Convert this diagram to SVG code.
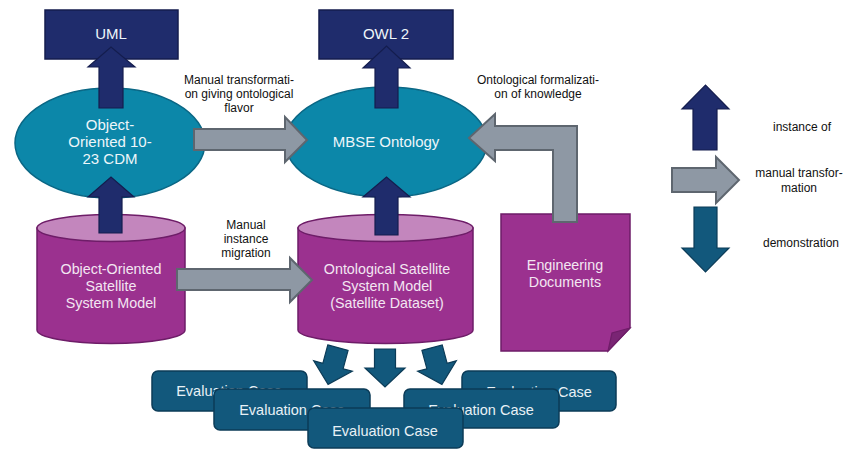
<svg xmlns="http://www.w3.org/2000/svg" width="845" height="451" viewBox="0 0 845 451">
<style>
  text { font-family: "Liberation Sans", Arial, sans-serif; text-anchor: middle; }
  .big { font-size: 15px; fill: #eef6fa; }
  .mid { font-size: 14.3px; fill: #f3e6f2; }
  .eval { font-size: 14.5px; fill: #e8f1f6; }
  .lbl { font-size: 12px; fill: #111; }
  .leg { font-size: 12px; fill: #111; }
  .navy { fill: #1f2c6c; stroke: #141d4e; stroke-width: 1.5; }
  .teal { fill: #0c87a9; stroke: #0a6785; stroke-width: 1.5; }
  .cyl { fill: #9b318f; stroke: #6e1d68; stroke-width: 1.5; }
  .cap { fill: #c386bd; stroke: #6e1d68; stroke-width: 1.5; }
  .box { fill: #12587c; stroke: #0b3b57; stroke-width: 1.5; }
  .gray { fill: #8e98a4; stroke: #5e666f; stroke-width: 2; }
  .up { fill: #1f2c6c; stroke: #141d4e; stroke-width: 1.2; }
  .dn { fill: #12587c; stroke: #0b3b57; stroke-width: 1.2; }
</style>
<defs>
  <path id="darr" d="M-10.5,-19 L10.5,-19 L10.5,0 L20,0 L0,19 L-20,0 L-10.5,0 Z"/>
</defs>
<rect width="845" height="451" fill="#ffffff"/>

<g id="uml">
  <rect class="navy" x="45" y="10" width="133" height="49"/>
  <text class="big" x="111" y="39">UML</text>
</g>
<g id="owl2">
  <rect class="navy" x="319" y="10" width="134" height="49"/>
  <text class="big" x="386" y="39">OWL 2</text>
</g>
<g id="cdm">
  <ellipse class="teal" cx="110" cy="143" rx="95" ry="55"/>
  <text class="big" x="110" y="130">Object-</text>
  <text class="big" x="110" y="147">Oriented 10-</text>
  <text class="big" x="110" y="164">23 CDM</text>
</g>
<g id="mbse">
  <ellipse class="teal" cx="386" cy="142" rx="101" ry="55"/>
  <text class="big" x="386" y="147">MBSE Ontology</text>
</g>
<g id="oo-model">
  <path class="cyl" d="M37,228 L37,330 A74,13.5 0 0 0 185,330 L185,228 Z"/>
  <ellipse class="cap" cx="111" cy="228" rx="74" ry="13.5"/>
  <text class="mid" x="111" y="274">Object-Oriented</text>
  <text class="mid" x="111" y="291">Satellite</text>
  <text class="mid" x="111" y="308">System Model</text>
</g>
<g id="onto-model">
  <path class="cyl" d="M298,228 L298,330 A87.5,13.5 0 0 0 473,330 L473,228 Z"/>
  <ellipse class="cap" cx="385.5" cy="228" rx="87.5" ry="13.5"/>
  <text class="mid" x="387" y="274">Ontological Satellite</text>
  <text class="mid" x="387" y="291">System Model</text>
  <text class="mid" x="387" y="308">(Satellite Dataset)</text>
</g>
<g id="eng-docs">
  <path class="cyl" d="M501,214 L630,214 L630,328 L608,351 L501,351 Z"/>
  <path d="M630,328 L612,333 L608,351 Z" fill="#7a2574" stroke="#6e1d68" stroke-width="1.2"/>
  <text class="mid" x="565" y="270">Engineering</text>
  <text class="mid" x="565" y="287">Documents</text>
</g>
<g id="eval1">
  <rect class="box" x="152" y="371" width="155" height="40" rx="6"/>
  <text class="eval" x="229" y="396">Evaluation Case</text>
</g>
<g id="eval4">
  <rect class="box" x="462" y="371" width="154" height="40" rx="6"/>
  <text class="eval" x="539" y="397">Evaluation Case</text>
</g>
<g id="eval2">
  <rect class="box" x="214" y="389" width="156" height="41" rx="6"/>
  <text class="eval" x="292" y="415">Evaluation Case</text>
</g>
<g id="eval5">
  <rect class="box" x="404" y="389" width="155" height="39" rx="6"/>
  <text class="eval" x="481" y="415">Evaluation Case</text>
</g>
<g id="eval3">
  <rect class="box" x="308" y="408" width="155" height="40" rx="6"/>
  <text class="eval" x="385" y="436">Evaluation Case</text>
</g>

<g id="connectors">
  <path class="up" d="M99,108 L99,67 L88,67 L111,47 L135,67 L123,67 L123,108 Z"/>
  <path class="up" d="M375,108 L375,68 L363,68 L386.5,46 L410,68 L398,68 L398,108 Z"/>
  <path class="up" d="M99,233 L99,197 L88,197 L111,177 L134,197 L122,197 L122,233 Z"/>
  <path class="up" d="M375,235 L375,197 L363,197 L386.5,177 L410,197 L398,197 L398,235 Z"/>
  <path class="gray" d="M194,129 L285,129 L285,117 L307,140 L285,162 L285,150 L194,150 Z"/>
  <path class="gray" d="M177,269 L290,269 L290,258 L312,280 L290,302 L290,290 L177,290 Z"/>
  <path class="gray" d="M469,138 L495,114 L495,126 L577,126 L577,222 L553,222 L553,150 L495,150 L495,161 Z"/>
  <use href="#darr" class="dn" transform="translate(333,366) rotate(15)"/>
  <use href="#darr" class="dn" transform="translate(385,368)"/>
  <use href="#darr" class="dn" transform="translate(437,366) rotate(-15)"/>
  <text class="lbl" x="239" y="84">Manual transformati-</text>
  <text class="lbl" x="239" y="98">on giving ontological</text>
  <text class="lbl" x="239" y="112">flavor</text>
  <text class="lbl" x="538" y="84">Ontological formalizati-</text>
  <text class="lbl" x="538" y="98">on of knowledge</text>
  <text class="lbl" x="246" y="229">Manual</text>
  <text class="lbl" x="246" y="243">instance</text>
  <text class="lbl" x="246" y="257">migration</text>
</g>

<g id="legend">
  <path class="up" d="M693,150 L693,109 L682,109 L705.5,85 L729,109 L717,109 L717,150 Z"/>
  <path class="gray" d="M672,168 L716,168 L716,157 L739,180 L716,203 L716,192 L672,192 Z"/>
  <path class="dn" d="M694,207 L717,207 L717,248 L729,248 L705.5,272 L682,248 L694,248 Z"/>
  <text class="leg" x="802" y="131">instance of</text>
  <text class="leg" x="799" y="177">manual transfor-</text>
  <text class="leg" x="799" y="192">mation</text>
  <text class="leg" x="801" y="247">demonstration</text>
</g>
</svg>
